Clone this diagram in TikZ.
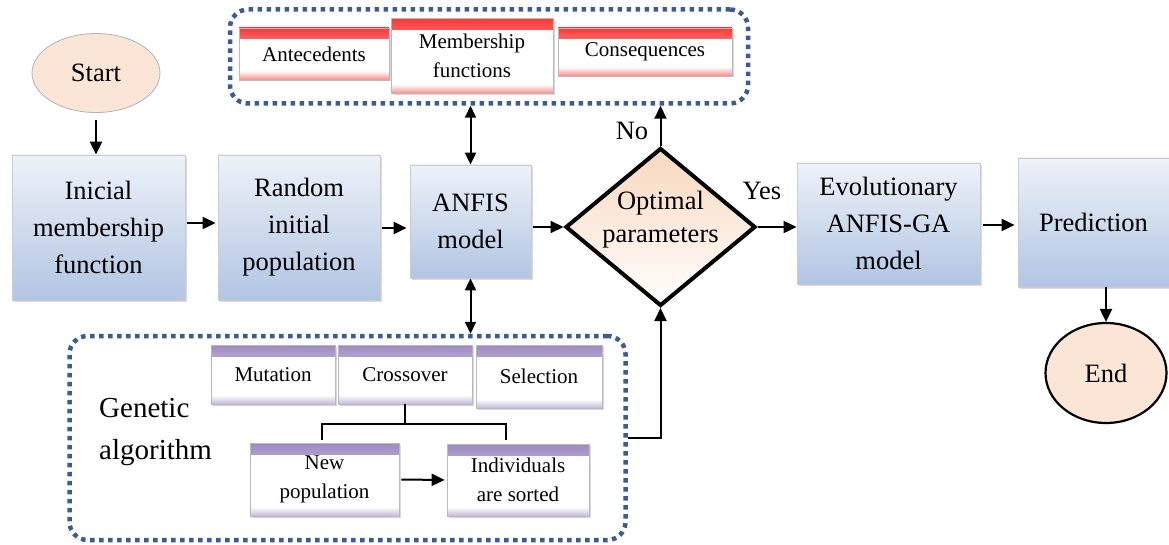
\documentclass[tikz,border=0pt]{standalone}
\usepackage{fontspec}
\setmainfont{Liberation Serif}
\usetikzlibrary{shapes.geometric,arrows.meta,shadows,calc}
\definecolor{bluetop}{HTML}{EEF2F9}
\definecolor{bluebot}{HTML}{B2C5E3}
\definecolor{peach}{HTML}{FBE5D6}
\definecolor{peachd}{HTML}{FAD7BE}
\definecolor{dotblue}{HTML}{3C5D8C}
\definecolor{redst}{HTML}{FF3838}
\definecolor{purst}{HTML}{9E8AC2}
\tikzset{
  mainfont/.style={font=\fontsize{26.5}{37}\selectfont},
  smallfont/.style={font=\fontsize{21}{29}\selectfont},
  bluebox/.style={draw=gray!40, line width=0.8pt, top color=bluetop, bottom color=bluebot,
    drop shadow={shadow xshift=2pt,shadow yshift=-2pt,opacity=0.3},
    align=center, inner sep=0pt, mainfont},
  stripebox/.style={draw=gray!55, line width=0.8pt, fill=white, inner sep=0pt, align=center, smallfont,
    drop shadow={shadow xshift=1.5pt,shadow yshift=-1.5pt,opacity=0.3},
    path picture={
      \shade[top color=#1, bottom color=white] (path picture bounding box.north west) rectangle ([yshift=-11pt]path picture bounding box.north east);
      \shade[top color=white, bottom color=#1!60] ([yshift=9pt]path picture bounding box.south west) rectangle (path picture bounding box.south east);}},
  grp/.style={draw=dotblue, line width=4.5pt, dash pattern=on 4.5pt off 4.5pt, rounded corners=18pt, inner sep=0pt},
  arr/.style={-{Triangle[length=13pt,width=12pt]}, line width=2pt},
  dbl/.style={{Triangle[length=12pt,width=11pt]}-{Triangle[length=12pt,width=11pt]}, line width=2pt},
}
\begin{document}
\begin{tikzpicture}[x=1pt,y=-1pt]
\useasboundingbox (0,0) rectangle (1169,545);
% groups
\node[grp, minimum width=518pt, minimum height=94pt] (gtop) at (489,56.5) {};
\node[grp, minimum width=556pt, minimum height=204pt] (gbot) at (347.5,438) {};
% top group boxes
\node[stripebox=redst, minimum width=150pt, minimum height=52pt] (ante) at (314,54) {Antecedents};
\node[stripebox=redst, minimum width=162pt, minimum height=75pt] (memb) at (472,56) {Membership\\functions};
\node[stripebox=redst, minimum width=174pt, minimum height=48pt] (cons) at (645,52) {Consequences};
% start
\node[ellipse, draw=gray!60, line width=0.8pt, fill=peach, minimum width=128pt, minimum height=79pt, inner sep=0pt, mainfont] (start) at (96,73) {Start};
% main row
\node[bluebox, minimum width=173pt, minimum height=145pt] (b1) at (98.5,227.5) {Inicial\\membership\\function};
\node[bluebox, minimum width=162pt, minimum height=145pt] (b2) at (299,227.5) {Random\\initial\\population};
\node[bluebox, minimum width=121pt, minimum height=113pt] (anfis) at (470.5,221.5) {ANFIS\\model};
\node[diamond, draw=black, line width=4pt, top color=peachd, middle color=white, bottom color=white, minimum width=190pt, minimum height=158pt, aspect=1.2, inner sep=0pt] (opt) at (660.5,227) {};
\node[align=center, inner sep=0pt, font=\fontsize{26.5}{33}\selectfont] (optlbl) at (660.5,220) {Optimal\\parameters};
\node[bluebox, minimum width=183pt, minimum height=121pt] (evo) at (888.5,223.5) {Evolutionary\\ANFIS-GA\\model};
\node[bluebox, minimum width=151pt, minimum height=129pt] (pred) at (1093.5,222.5) {Prediction};
\node[ellipse, draw=black, line width=2.2pt, fill=peach, minimum width=121pt, minimum height=100pt, inner sep=0pt, mainfont] (end) at (1106,373) {End};
% labels
\node[mainfont, inner sep=0pt] (no) at (632,131) {No};
\node[mainfont, inner sep=0pt] (yes) at (762,191) {Yes};
% bottom group
\node[font=\fontsize{29}{42}\selectfont, align=left, inner sep=0pt, anchor=west] (gen) at (99,432) {Genetic\\algorithm};
\node[stripebox=purst, minimum width=124pt, minimum height=59pt] (mut) at (273,374.5) {Mutation};
\node[stripebox=purst, minimum width=134pt, minimum height=59pt] (cross) at (405,374.5) {Crossover};
\node[stripebox=purst, minimum width=126pt, minimum height=63pt] (sel) at (539,376.5) {Selection};
\node[stripebox=purst, minimum width=149pt, minimum height=73pt] (newp) at (324.5,479.5) {New\\population};
\node[stripebox=purst, minimum width=142pt, minimum height=72pt] (indiv) at (518,480) {Individuals\\are sorted};
% bracket
\coordinate (bl) at (322,440);
\coordinate (br) at (506,440);
\coordinate (bm) at (405,424);
\draw[line width=1.3pt] (cross.south) -- (bm);
\draw[line width=1.3pt] (bl) |- (bm) -| (br);
% arrows
\draw[arr, shorten <=7pt] (start.south) -- (start.south |- b1.north);
\draw[arr, shorten <=2pt, shorten >=2pt] (b1.east |- 0,223) -- (b2.west |- 0,223);
\draw[arr, shorten <=2pt, shorten >=3pt] (b2.east |- 0,228) -- (anfis.west |- 0,228);
\draw[arr, shorten <=2pt] (anfis.east |- opt.west) -- (opt.west);
\draw[arr] (opt.east) -- (opt.east -| evo.west);
\draw[arr, shorten <=3pt, shorten >=3pt] (evo.east |- 0,225) -- (pred.west |- 0,225);
\draw[arr] (pred.south -| end.north) -- (end.north);
\draw[arr] (opt.north) -- (opt.north |- gtop.south);
\draw[dbl] (anfis.north) -- (anfis.north |- gtop.south);
\draw[dbl] (anfis.south) -- (anfis.south |- gbot.north);
\draw[arr] (gbot.east) -| (opt.south);
\draw[arr, shorten <=2pt, shorten >=2pt] (newp.east) -- (indiv.west);
\end{tikzpicture}
\end{document}
